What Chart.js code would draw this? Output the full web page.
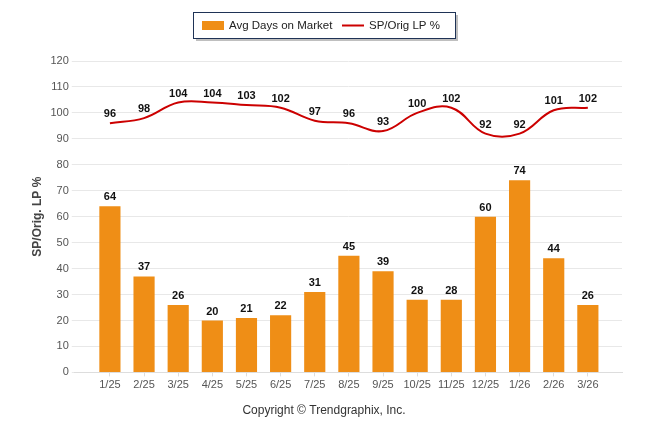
<!DOCTYPE html>
<html>
<head>
<meta charset="utf-8">
<script src="https://cdn.jsdelivr.net/npm/chart.js@4.4.1/dist/chart.umd.min.js"></script>
<style>
  body { margin: 0; background: #fff; }
  #wrap { width: 646px; height: 434px; }
</style>
</head>
<body>
<div id="wrap"><canvas id="marketChart"></canvas></div>
<script>
// months shown on the x axis
const months = ['1/25', '2/25', '3/25', '4/25', '5/25', '6/25', '7/25', '8/25', '9/25', '10/25', '11/25', '12/25', '1/26', '2/26', '3/26'];
// bar series
const avgDaysOnMarket = [64, 37, 26, 20, 21, 22, 31, 45, 39, 28, 28, 60, 74, 44, 26];
// line series
const spOrigLpPct = [96, 98, 104, 104, 103, 102, 97, 96, 93, 100, 102, 92, 92, 101, 102];
// y axis ticks
const yMin = 0;
const yMax = 120;
const yStep = 10;

const FONT = 'Arial, "Liberation Sans", sans-serif';

// x is a linear index axis so the grid runs a bit past the first and last month
function toPoints(values) {
    return values.map(function (v, i) { return { x: i, y: v }; });
}

// draws the numbers above bars and line points
const valueLabels = {
    id: 'valueLabels',
    afterDatasetsDraw(chart) {
        const ctx = chart.ctx;
        ctx.save();
        ctx.font = 'bold 11px ' + FONT;
        ctx.fillStyle = '#111';
        ctx.textAlign = 'center';
        ctx.textBaseline = 'middle';
        chart.data.datasets.forEach(function (ds, i) {
            let meta = chart.getDatasetMeta(i);
            meta.data.forEach(function (el, j) {
                ctx.fillText(ds.data[j].y, el.x, el.y - 9);
            });
        });
        ctx.restore();
    }
};

// boxed legend at the top, like the original
const boxLegend = {
    id: 'boxLegend',
    afterDraw(chart) {
        const ctx = chart.ctx;
        let x0 = 193, y0 = 12, w = 262, h = 26;
        ctx.save();
        // shadow
        ctx.fillStyle = 'rgba(0,0,0,0.25)';
        ctx.fillRect(x0 + 3, y0 + 3, w, h);
        ctx.fillStyle = '#fff';
        ctx.fillRect(x0, y0, w, h);
        ctx.strokeStyle = '#1f3356';
        ctx.lineWidth = 1;
        ctx.strokeRect(x0 + 0.5, y0 + 0.5, w, h);

        ctx.font = '11.5px ' + FONT;
        ctx.textBaseline = 'middle';
        let cy = y0 + h / 2 + 0.5;
        let bars = chart.data.datasets[1];
        let line = chart.data.datasets[0];
        ctx.fillStyle = bars.backgroundColor;
        ctx.fillRect(202, cy - 4.5, 22, 9);
        ctx.fillStyle = '#222';
        ctx.fillText(bars.label, 229, cy);
        ctx.strokeStyle = line.borderColor;
        ctx.lineWidth = 2;
        ctx.beginPath();
        ctx.moveTo(342, cy);
        ctx.lineTo(364, cy);
        ctx.stroke();
        ctx.fillText(line.label, 369, cy);
        ctx.restore();
    }
};

let ctx = document.getElementById('marketChart').getContext('2d');
let myChart = new Chart(ctx, {
    data: {
        datasets: [{
            type: 'line',
            label: 'SP/Orig LP %',
            data: toPoints(spOrigLpPct),
            borderColor: '#cc0000',
            backgroundColor: '#cc0000',
            borderWidth: 2,
            pointRadius: 0,
            tension: 0.4,
            order: 0
        },
        {
            type: 'bar',
            label: 'Avg Days on Market',
            data: toPoints(avgDaysOnMarket),
            backgroundColor: '#ef8e16',
            barPercentage: 0.62,
            categoryPercentage: 1.0,
            order: 1
        }]
    },
    options: {
        responsive: true,
        maintainAspectRatio: false,
        animation: false,
        layout: {
            padding: { top: 61, right: 24, left: 26, bottom: 16 }
        },
        plugins: {
            legend: { display: false },
            tooltip: { enabled: false },
            title: {
                display: true,
                position: 'bottom',
                text: 'Copyright \u00a9 Trendgraphix, Inc.',
                color: '#333',
                font: { family: FONT, size: 12, weight: 'normal' },
                padding: { top: 10, bottom: 0 }
            }
        },
        scales: {
            x: {
                type: 'linear',
                min: -1.03,
                max: 15,
                offset: false,
                afterBuildTicks: function (axis) {
                    axis.ticks = months.map(function (m, i) { return { value: i }; });
                },
                grid: { display: true, offset: false, drawOnChartArea: false, tickLength: 4, color: '#ddd' },
                border: { color: '#ddd' },
                ticks: {
                    color: '#555',
                    font: { family: FONT, size: 11 },
                    padding: 2,
                    maxRotation: 0,
                    autoSkip: false,
                    callback: function (value) { return months[value]; }
                }
            },
            y: {
                min: yMin,
                max: yMax,
                grid: { color: '#e8e8e8', tickLength: 3 },
                border: { display: false },
                ticks: {
                    stepSize: yStep,
                    color: '#555',
                    font: { family: FONT, size: 11 },
                    padding: 3
                },
                title: {
                    display: true,
                    text: 'SP/Orig. LP %',
                    color: '#444',
                    font: { family: FONT, size: 12, weight: 'bold' },
                    padding: { bottom: 3 }
                }
            }
        }
    },
    plugins: [valueLabels, boxLegend]
});
</script>
</body>
</html>
